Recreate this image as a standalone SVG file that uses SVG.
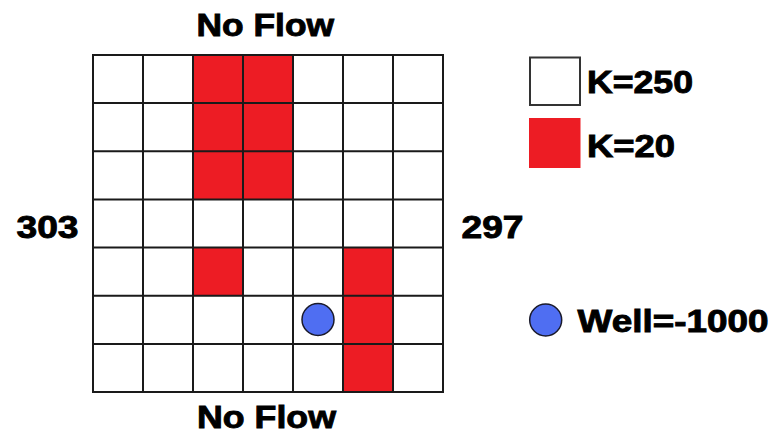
<svg xmlns="http://www.w3.org/2000/svg" width="775" height="437" viewBox="0 0 775 437">
<style>
.t{font-family:"Liberation Sans",Arial,sans-serif;font-weight:bold;font-size:31px;fill:#000;stroke:#000;stroke-width:0.9}
.c{stroke:#1a1a1a;stroke-width:2}
.w{fill:#fff}
.r{fill:#ED1C24}
.well{fill:#4F6EF2;stroke:#1a1a2a;stroke-width:1.5}
</style>
<rect width="775" height="437" fill="#fff"/>
<g id="grid">
<rect class="r" x="193" y="55" width="100" height="144.4"/>
<rect class="r" x="193" y="247.6" width="50" height="48.1"/>
<rect class="r" x="343" y="247.6" width="50" height="144.4"/>
<g class="c" fill="none">
<rect x="93" y="55" width="350" height="337"/>
<path d="M143 55V392M193 55V392M243 55V392M293 55V392M343 55V392M393 55V392M93 103.1H443M93 151.3H443M93 199.4H443M93 247.6H443M93 295.7H443M93 343.9H443"/>
</g>
</g>
<g id="well"><circle class="well" cx="318" cy="319.5" r="16"/></g>
<g id="labels">
<text class="t" x="196.5" y="36" textLength="137.5" lengthAdjust="spacingAndGlyphs">No Flow</text>
<text class="t" x="197" y="428" textLength="139" lengthAdjust="spacingAndGlyphs">No Flow</text>
<text class="t" x="16.5" y="238" textLength="62" lengthAdjust="spacingAndGlyphs">303</text>
<text class="t" x="461.5" y="237.5" textLength="62" lengthAdjust="spacingAndGlyphs">297</text>
</g>
<g id="legend-k250">
<rect x="530" y="57.5" width="50" height="47.5" fill="#fff" stroke="#333" stroke-width="2"/>
<text class="t" x="587" y="92.5" textLength="106" lengthAdjust="spacingAndGlyphs">K=250</text>
</g>
<g id="legend-k20">
<rect class="r" x="529" y="118" width="51.5" height="50"/>
<text class="t" x="587" y="156.5" textLength="88" lengthAdjust="spacingAndGlyphs">K=20</text>
</g>
<g id="legend-well">
<circle class="well" cx="545.7" cy="320" r="16"/>
<text class="t" x="577.5" y="331.5" textLength="191" lengthAdjust="spacingAndGlyphs">Well=-1000</text>
</g>
<g id="connectors"/>
</svg>
